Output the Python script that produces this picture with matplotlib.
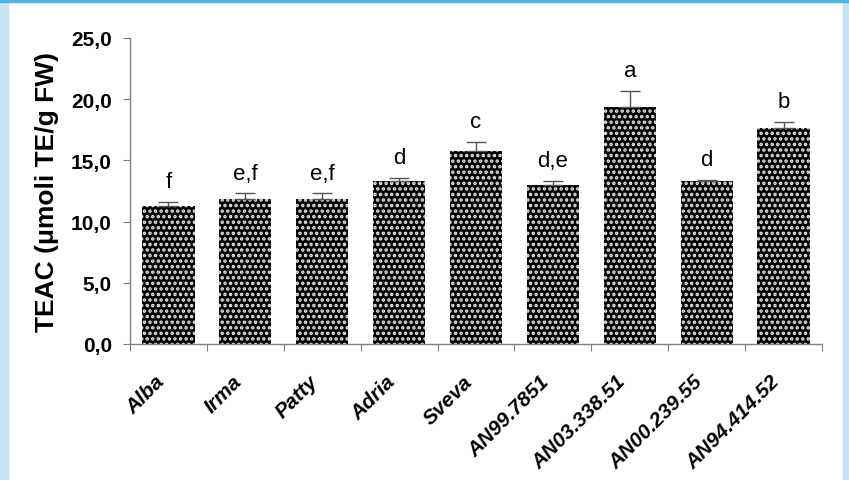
import numpy as np
import matplotlib
matplotlib.use('Agg')
import matplotlib.pyplot as plt
from matplotlib.patches import Rectangle

# TEAC antioxidant capacity per cultivar / selection
cultivars = ['Alba', 'Irma', 'Patty', 'Adria', 'Sveva', 'AN99.7851',
             'AN03.338.51', 'AN00.239.55', 'AN94.414.52']
teac = [11.3, 11.85, 11.85, 13.3, 15.8, 13.0, 19.35, 13.3, 17.65]
sd = [0.3, 0.45, 0.45, 0.3, 0.7, 0.3, 1.3, 0.12, 0.5]
groups = ['f', 'e,f', 'e,f', 'd', 'c', 'd,e', 'a', 'd', 'b']
yticks = [0, 5, 10, 15, 20, 25]

plt.rcParams['font.family'] = ['Liberation Sans', 'DejaVu Sans']
plt.rcParams['hatch.linewidth'] = 1.7

fig = plt.figure(figsize=(8.49, 4.81), dpi=100)

# light blue frame around the figure
fig.patches.append(Rectangle((0, 0), 8 / 849, 1, transform=fig.transFigure,
                             color='#c5e3f3', zorder=0))
fig.patches.append(Rectangle((843 / 849, 0), 6 / 849, 1, transform=fig.transFigure,
                             color='#c5e3f3', zorder=0))
fig.patches.append(Rectangle((0, 1 - 3 / 481), 1, 3 / 481, transform=fig.transFigure,
                             color='#4cb6e6', zorder=0))

ax = fig.add_axes([130 / 849, 1 - 345 / 481, (822 - 130) / 849, (345 - 39) / 481])

x = np.arange(len(cultivars))
ax.bar(x, teac, width=0.68, color='black', edgecolor='#e6e6e6', linewidth=0,
       hatch='...', zorder=2)
ax.errorbar(x, teac, yerr=[np.zeros(len(sd)), sd], fmt='none', ecolor='#555555',
            elinewidth=1.0, capsize=7, capthick=1.0, zorder=3)

for xi, v, s, g in zip(x, teac, sd, groups):
    ax.text(xi, v + s + 0.8, g, ha='center', va='bottom', fontsize=16)

ax.set_xlim(-0.5, len(cultivars) - 0.5)
ax.set_ylim(0, 25)
ax.set_yticks(yticks)
ax.set_yticklabels([f'{t:.1f}'.replace('.', ',') for t in yticks],
                   fontsize=15, fontweight='bold')

# category boundaries carry the x ticks
ax.set_xticks(np.arange(len(cultivars) + 1) - 0.5)
ax.set_xticklabels([])
ax.set_xticks(x, minor=True)
ax.set_xticklabels(cultivars, minor=True, rotation=45, ha='right',
                   fontsize=15, fontweight='bold', fontstyle='italic')
ax.tick_params(axis='x', which='minor', length=0, pad=20)
ax.tick_params(axis='x', which='major', length=5, color='#808080', direction='out')
ax.tick_params(axis='y', length=5, color='#808080', direction='out', pad=8)

for side in ['top', 'right']:
    ax.spines[side].set_visible(False)
for side in ['left', 'bottom']:
    ax.spines[side].set_color('#808080')
    ax.spines[side].set_linewidth(1.0)

ax.set_ylabel('TEAC (\u03bcmoli TE/g FW)', fontsize=19, fontweight='bold', labelpad=9)

fig.savefig('out.png', dpi=100)
